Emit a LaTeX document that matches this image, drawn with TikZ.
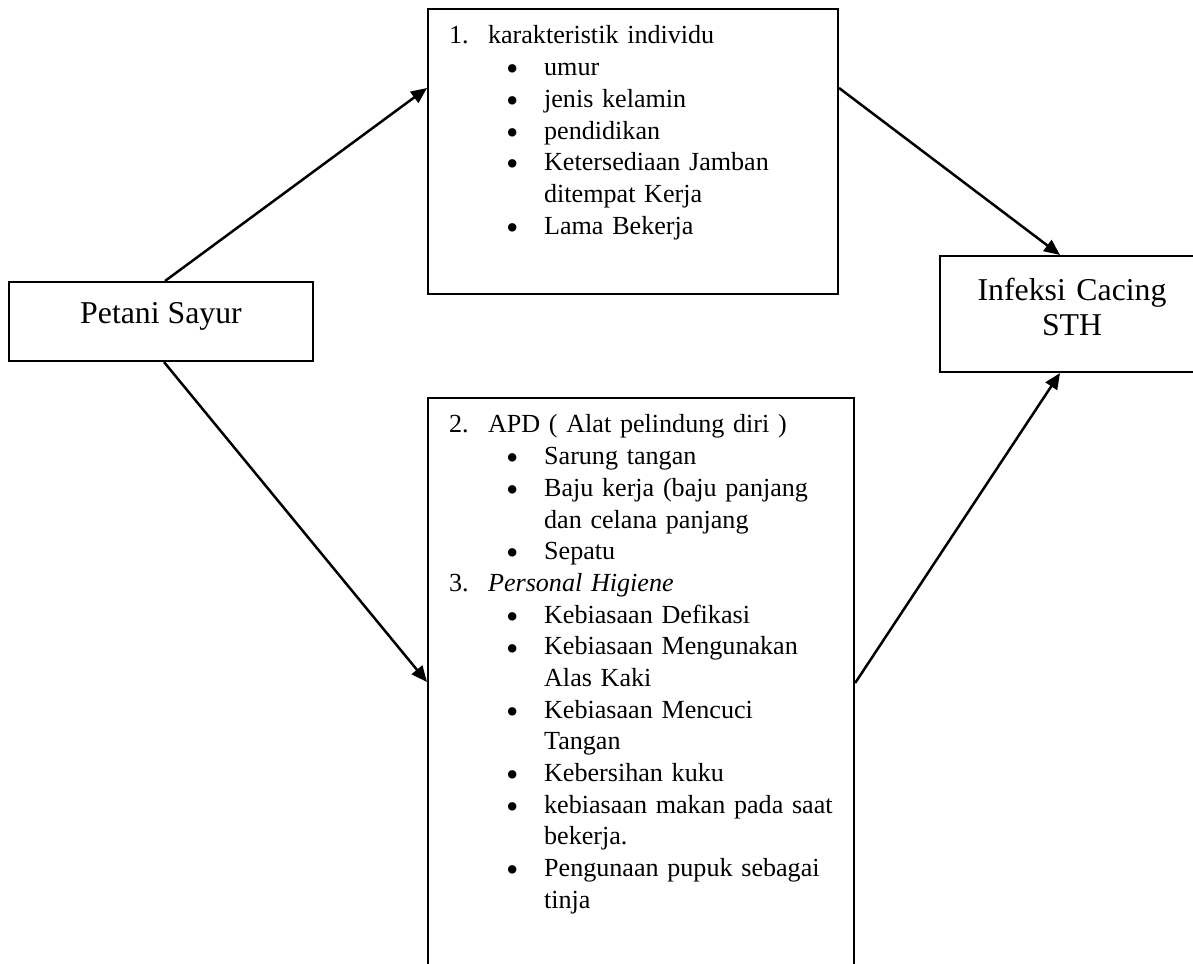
\documentclass[tikz,border=0pt]{standalone}
\usepackage{fontspec}
\setmainfont{Liberation Serif}
\usepackage{graphicx}
\usepackage{tikz}
\usetikzlibrary{arrows.meta, calc}

\newcommand{\numitem}[2]{\makebox[17.2pt][l]{#1}\mbox{#2}}
\newcommand{\bulitem}[1]{\hspace*{25.2pt}\makebox[16.7pt][l]{\raisebox{-2.3pt}{\scalebox{1.35}{\textbullet}}}\mbox{#1}}
\newcommand{\contline}[1]{\hspace*{41.9pt}\mbox{#1}}

\begin{document}
\begin{tikzpicture}[
    x=0.4405pt, y=-0.4405pt,
    box/.style={draw=black, line width=0.9pt, anchor=north west, inner sep=0pt, align=center, font=\fontsize{14}{15.4}\selectfont},
    listbox/.style={draw=black, line width=0.9pt, anchor=north west, inner xsep=9.25pt, inner ysep=0pt, align=left, text height=15.4pt, font=\fontsize{11.5}{13.96}\selectfont},
    arrow/.style={-{Triangle[length=7pt, width=6pt]}, line width=1.1pt, draw=black}
]
    \useasboundingbox (0,0) rectangle (1193,964);
    \clip (0,0) rectangle (1193,964);

    % Petani Sayur
    \node[box, minimum width=133.9pt, text height=18.1pt, text depth=16.7pt] (petani) at (8, 281) {Petani Sayur};

    % Karakteristik individu
    \node[listbox, text width=162.1pt, text depth=110.1pt] (karakteristik) at (427, 8) {
        \numitem{1.}{karakteristik individu} \\
        \bulitem{umur} \\
        \bulitem{jenis kelamin} \\
        \bulitem{pendidikan} \\
        \bulitem{Ketersediaan Jamban} \\
        \contline{ditempat Kerja} \\
        \bulitem{Lama Bekerja}
    };

    % APD dan Personal Higiene
    \node[listbox, text width=169.2pt, text depth=248.9pt] (apd) at (427, 397) {
        \numitem{2.}{APD ( Alat pelindung diri )} \\
        \bulitem{Sarung tangan} \\
        \bulitem{Baju kerja (baju panjang} \\
        \contline{dan celana panjang} \\
        \bulitem{Sepatu} \\
        \numitem{3.}{\textit{Personal Higiene}} \\
        \bulitem{Kebiasaan Defikasi} \\
        \bulitem{Kebiasaan Mengunakan} \\
        \contline{Alas Kaki} \\
        \bulitem{Kebiasaan Mencuci} \\
        \contline{Tangan} \\
        \bulitem{Kebersihan kuku} \\
        \bulitem{kebiasaan makan pada saat} \\
        \contline{bekerja.} \\
        \bulitem{Pengunaan pupuk sebagai} \\
        \contline{tinja}
    };

    % Infeksi Cacing STH
    \node[box, text width=116.3pt, text height=19.8pt, text depth=31.3pt] (infeksi) at (939, 255) {Infeksi Cacing\\STH};

    % Arrows
    \draw[arrow] ($(petani.north)+(4,0)$) -- ($(karakteristik.north west)+(0,80)$);
    \draw[arrow] ($(petani.south)+(3,0)$) -- ($(apd.north west)+(0,285)$);
    \draw[arrow] ($(karakteristik.north east)+(0,80)$) -- ($(infeksi.north west)+(121,0)$);
    \draw[arrow] ($(apd.north east)+(0,286)$) -- ($(infeksi.south west)+(121,0)$);

\end{tikzpicture}
\end{document}
